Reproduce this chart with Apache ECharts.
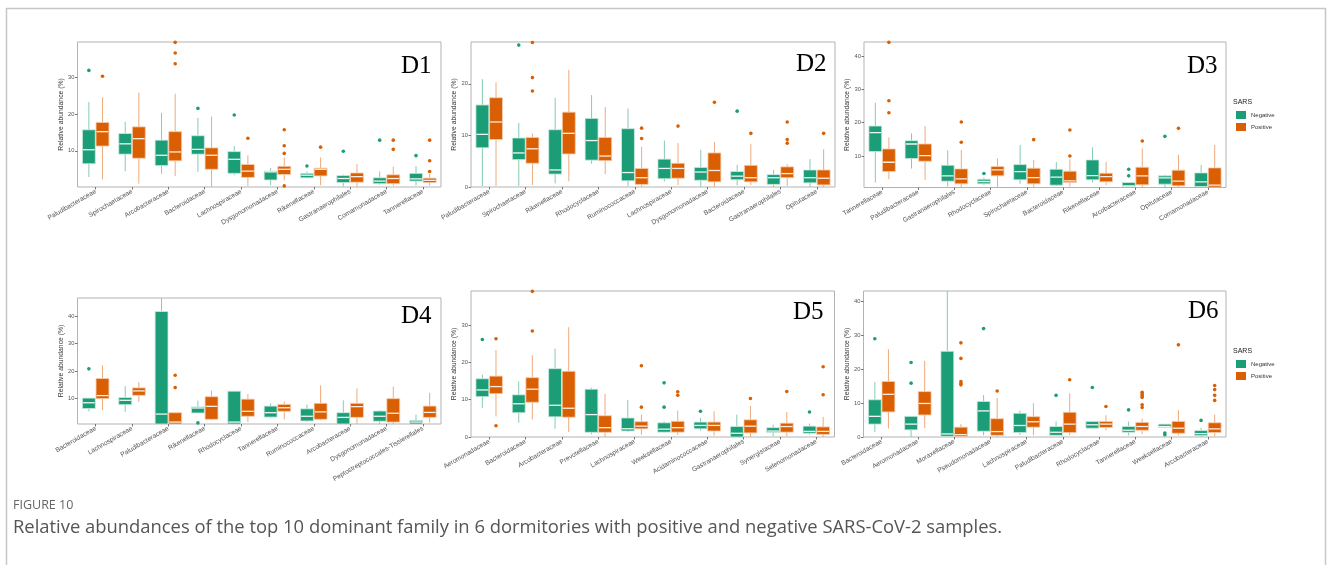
<!DOCTYPE html>
<html><head><meta charset="utf-8">
<script src="https://cdn.jsdelivr.net/npm/echarts@6/dist/echarts.min.js"></script>
<style>html,body{margin:0;padding:0;background:#fff}#c{width:1328px;height:565px}</style>
</head><body><div id="c"></div>
<script>
// ---------- DATA ----------
// box values: [lower whisker, Q1, median, Q3, upper whisker]; outliers: [category index, value]
const d1Categories = ['Paludibacteraceae','Spirochaetaceae','Arcobacteraceae','Bacteroidaceae','Lachnospiraceae','Dysgonomonadaceae','Rikenellaceae','Gastranaerophilales','Comamonadaceae','Tannerellaceae'];
const d1Negative = [[2.9,6.5,10.3,15.7,23.2],[4.5,9.1,11.9,14.7,17.9],[3.8,6.0,8.8,12.9,20.3],[4.3,9.1,10.4,14.1,18.9],[3.4,3.9,7.7,9.8,11.3],[0.7,2.1,4.3,4.5,5.4],[2.5,2.7,3.4,3.9,4.4],[0.3,1.4,2.5,3.3,3.6],[0.9,1.1,1.8,2.7,4.4],[0.6,1.8,2.4,3.9,5.9]];
const d1Positive = [[2.3,11.3,15.2,17.7,24.5],[1.1,8.0,13.3,16.5,25.8],[3.2,7.3,9.7,15.2,25.5],[0.2,5.0,8.8,10.8,19.3],[0.5,2.8,4.5,6.3,8.8],[2.0,3.6,5.0,5.8,8.2],[0.7,3.2,5.0,5.3,8.2],[0.2,1.5,3.0,4.0,6.4],[0.6,1.1,2.5,3.5,5.7],[0.6,1.4,2.0,2.6,3.8]];
const d1NegOutliers = [[0,31.8],[3,21.5],[4,19.7],[6,5.9],[7,9.9],[8,12.9],[9,8.7]];
const d1PosOutliers = [[0,30.2],[2,39.4],[2,36.5],[2,33.6],[4,13.4],[5,15.7],[5,11.4],[5,9.3],[5,0.5],[6,11.0],[8,12.9],[8,10.4],[9,12.9],[9,7.3],[9,4.4]];
const d1Range = [0.2, 39.5];
const d1Ticks = [10, 20, 30];

const d2Categories = ['Paludibacteraceae','Spirochaetaceae','Rikenellaceae','Rhodocyclaceae','Ruminococcaceae','Lachnospiraceae','Dysgonomonadaceae','Bacteroidaceae','Gastranaerophilales','Opitutaceae'];
const d2Negative = [[0.2,7.6,10.2,15.9,20.9],[0.2,5.3,6.6,9.5,12.4],[0.7,2.5,3.3,11.1,17.3],[4.5,5.2,9.0,13.3,17.8],[0.2,1.2,2.8,11.3,15.2],[1.1,1.6,3.6,5.4,9.0],[0,1.3,2.9,3.8,7.2],[0.3,1.4,2.1,3.0,4.3],[0,0.5,1.8,2.4,3.3],[0,0.8,1.8,3.3,5.4]];
const d2Positive = [[0.2,9.2,12.6,17.3,20.3],[0.4,4.6,7.4,9.6,10.4],[1.1,6.4,10.4,14.5,22.7],[2.5,5.1,6.0,9.6,15.5],[0,0.5,1.8,3.6,7.8],[0.4,1.7,3.6,4.6,8.5],[0,1.0,3.2,6.6,8.7],[0.4,1.0,1.8,4.2,8.3],[0.2,1.8,2.6,3.9,4.4],[0,0.4,1.7,3.3,7.3]];
const d2NegOutliers = [[1,27.5],[7,14.7]];
const d2PosOutliers = [[1,28.0],[1,21.2],[1,18.6],[4,11.4],[4,9.4],[5,11.8],[6,16.4],[7,10.4],[8,12.6],[8,9.2],[8,8.5],[9,10.4]];
const d2Range = [0, 28.1];
const d2Ticks = [0, 10, 20];

const d3Categories = ['Tannerellaceae','Paludibacteraceae','Gastranaerophilales','Rhodocyclaceae','Spirochaetaceae','Bacteroidaceae','Rikenellaceae','Arcobacteraceae','Opitutaceae','Comamonadaceae'];
const d3Negative = [[2.0,11.3,17.0,19.0,26.0],[6.2,9.2,13.6,14.6,16.8],[0.8,2.4,4.0,7.2,11.7],[1.3,1.6,2.3,3.0,3.5],[1.6,2.8,5.3,7.4,13.3],[1.0,1.2,3.6,6.0,8.2],[2.0,2.8,4.1,8.8,12.6],[0.5,0.8,1.0,2.0,2.0],[0.5,1.5,3.4,4.0,4.3],[0.5,0.8,2.2,4.9,7.3]];
const d3Positive = [[3.0,5.3,8.1,12.1,15.6],[2.8,8.4,10.1,13.6,19.0],[0.5,1.6,3.1,6.1,11.8],[0.5,4.0,5.8,6.8,9.2],[0.5,1.6,3.5,6.3,8.8],[0.8,2.0,2.5,5.4,9.0],[1.2,2.2,3.8,4.8,8.2],[0.5,1.3,4.0,6.6,12.3],[0.5,1.0,2.4,5.7,10.3],[0.5,0.6,1.2,6.4,13.3]];
const d3NegOutliers = [[3,4.7],[7,6.0],[7,4.0],[8,15.9]];
const d3PosOutliers = [[0,44.2],[0,26.6],[0,23.0],[2,20.2],[2,14.1],[4,14.9],[5,17.8],[5,10.0],[7,14.5],[8,18.3]];
const d3Range = [0.5, 44.3];
const d3Ticks = [10, 20, 30, 40];

const d4Categories = ['Bacteroidaceae','Lachnospiraceae','Paludibacteraceae','Rikenellaceae','Rhodocyclaceae','Tannerellaceae','Ruminococcaceae','Arcobacteraceae','Dysgonomonadaceae','Peptostreptococcales-Tissierellales'];
const d4Negative = [[5.4,6.4,8.5,10.2,10.2],[5.2,7.8,9.4,10.4,14.5],[0.8,0.8,4.4,41.6,46.5],[4.8,4.8,6.6,7.0,9.3],[0.8,0.8,1.5,12.7,12.7],[3.0,3.3,4.9,7.3,8.3],[1.5,1.9,3.6,6.3,7.9],[0.8,0.8,3.2,4.9,9.4],[0.8,1.8,3.6,5.5,5.8],[0.8,0.8,1.5,2.1,4.2]];
const d4Positive = [[5.8,10.0,11.1,17.3,22.1],[8.8,11.2,12.8,13.9,16.0],[0.8,0.8,1.5,4.9,4.9],[2.1,2.5,7.2,10.7,12.9],[1.5,3.6,5.4,9.8,11.7],[2.5,5.4,6.7,7.9,9.0],[2.1,2.5,5.2,8.3,14.8],[0.8,3.2,7.1,8.3,13.7],[0.8,1.5,4.7,10.0,14.4],[1.3,3.2,5.0,7.3,12.1]];
const d4NegOutliers = [[0,20.8],[3,1.2]];
const d4PosOutliers = [[2,18.5],[2,14.0]];
const d4Range = [0.8, 46.5];
const d4Ticks = [10, 20, 30, 40];

const d5Categories = ['Aeromonadaceae','Bacteroidaceae','Arcobacteraceae','Prevotellaceae','Lachnospiraceae','Weeksellaceae','Acidaminococcaceae','Gastranaerophilales','Synergistaceae','Selenomonadaceae'];
const d5Negative = [[7.8,10.8,12.6,15.6,16.7],[3.8,6.5,8.9,11.3,14.9],[2.2,5.4,8.5,18.3,23.7],[0.7,1.25,6.0,12.8,13.2],[1.3,1.6,2.2,5.1,9.9],[1.2,1.3,2.1,3.8,4.2],[1.7,2.2,3.1,4.0,5.1],[0,0,1.0,2.8,6.0],[0.2,1.25,1.6,2.5,3.3],[0.6,1.0,1.5,2.9,3.6]];
const d5Positive = [[5.5,11.6,13.5,16.3,23.3],[4.7,9.3,12.8,15.9,21.9],[1.3,5.3,7.7,17.6,29.4],[0,1.25,2.5,5.7,11.6],[0.6,2.2,2.9,4.1,6.0],[0.6,1.3,2.5,4.2,7.1],[0.4,1.6,3.1,4.0,6.9],[0,1.1,2.9,4.6,8.3],[0.2,1.3,2.8,3.7,6.7],[0,0.7,1.5,2.7,5.4]];
const d5NegOutliers = [[0,26.1],[5,14.5],[5,8.0],[6,6.9],[9,6.7]];
const d5PosOutliers = [[0,26.3],[0,3.0],[1,39.0],[1,28.4],[4,19.1],[4,8.0],[5,12.1],[5,11.2],[7,10.3],[8,12.2],[9,18.8],[9,11.3]];
const d5Range = [0, 39.1];
const d5Ticks = [0, 10, 20, 30];

const d6Categories = ['Bacteroidaceae','Aeromonadaceae','Moraxellaceae','Pseudomonadaceae','Lachnospiraceae','Paludibacteraceae','Rhodocyclaceae','Tannerellaceae','Weeksellaceae','Arcobacteraceae'];
const d6Negative = [[1.4,3.8,6.1,11.0,16.2],[0,2.1,3.8,6.1,6.1],[0,0.2,0.9,25.3,43.1],[0.5,1.7,7.7,10.5,12.4],[0.6,1.3,3.4,7.0,7.8],[0.5,0.5,1.4,3.1,4.6],[2.5,2.6,3.6,4.6,4.6],[0.5,1.4,2.0,3.1,4.6],[2.6,2.8,3.1,3.8,3.8],[0,0.4,1.0,1.9,2.7]];
const d6Positive = [[2.5,7.4,12.6,16.4,25.9],[2.6,6.5,9.9,13.4,22.5],[0,0.2,0.7,2.9,3.8],[0,0.5,1.6,5.4,11.5],[0.5,2.9,4.5,6.0,10.0],[0.5,1.3,3.8,7.3,12.9],[1.9,2.8,3.8,4.6,6.4],[0.9,2.0,3.1,4.3,5.4],[0.5,1.1,2.6,4.6,7.9],[0.1,1.3,2.4,4.2,6.6]];
const d6NegOutliers = [[0,29.0],[1,22.0],[1,15.9],[3,32.0],[5,12.3],[6,14.6],[7,8.0],[8,1.2],[8,0.7],[9,4.9]];
const d6PosOutliers = [[2,27.8],[2,23.2],[2,16.4],[2,15.8],[2,15.4],[3,13.6],[5,16.9],[6,9.0],[7,13.2],[7,12.7],[7,12.2],[7,11.7],[7,9.5],[7,8.7],[8,27.2],[9,15.2],[9,14.0],[9,12.3],[9,10.8]];
const d6Range = [0, 43.1];
const d6Ticks = [0, 10, 20, 30, 40];

const seriesNames = ['Negative', 'Positive'];
const panelLabels = ['D1','D2','D3','D4','D5','D6'];
const legendTitle = 'SARS';
const yTitle = 'Relative abundance (%)';
const figureLabel = 'FIGURE 10';
const figureCaption = 'Relative abundances of the top 10 dominant family in 6 dormitories with positive and negative SARS-CoV-2 samples.';

// ---------- LAYOUT / STYLE ----------
const panels = [
  {cats:d1Categories, neg:d1Negative, pos:d1Positive, negOut:d1NegOutliers, posOut:d1PosOutliers, range:d1Range, ticks:d1Ticks},
  {cats:d2Categories, neg:d2Negative, pos:d2Positive, negOut:d2NegOutliers, posOut:d2PosOutliers, range:d2Range, ticks:d2Ticks},
  {cats:d3Categories, neg:d3Negative, pos:d3Positive, negOut:d3NegOutliers, posOut:d3PosOutliers, range:d3Range, ticks:d3Ticks},
  {cats:d4Categories, neg:d4Negative, pos:d4Positive, negOut:d4NegOutliers, posOut:d4PosOutliers, range:d4Range, ticks:d4Ticks},
  {cats:d5Categories, neg:d5Negative, pos:d5Positive, negOut:d5NegOutliers, posOut:d5PosOutliers, range:d5Range, ticks:d5Ticks},
  {cats:d6Categories, neg:d6Negative, pos:d6Positive, negOut:d6NegOutliers, posOut:d6PosOutliers, range:d6Range, ticks:d6Ticks}
];
const gridBoxes = [
  {left:77.5, top:42, width:363.5, height:145},
  {left:471, top:42, width:364, height:145},
  {left:864, top:42, width:362, height:145.5},
  {left:77.5, top:298, width:363.5, height:126},
  {left:471, top:291, width:363.5, height:146},
  {left:863.5, top:291, width:362.5, height:146}
];
const labelPos = [
  {left:401, top:54},{left:796, top:52},{left:1187, top:54},
  {left:401, top:304},{left:793, top:300},{left:1188, top:299}
];
const fills = ['#1B9E77', '#D95F02'];
const whiskers = ['#86cbb4', '#eeaa7d'];
const edges = ['#cfeae0', '#f6cdb2'];
const medians = ['#eef7f3', '#fbeee4'];
const OFF = 0.1875, BW = 0.355;

function makeRender(k) {
  const side = k === 0 ? -1 : 1;
  return function (params, api) {
    const i = api.value(0);
    const band = api.size([1, 0])[0];
    const w = band * BW;
    const pLo = api.coord([i, api.value(1)]);
    const cx = pLo[0] + side * band * OFF;
    const yLo = pLo[1];
    const yQ1 = api.coord([i, api.value(2)])[1];
    const yMd = api.coord([i, api.value(3)])[1];
    const yQ3 = api.coord([i, api.value(4)])[1];
    const yHi = api.coord([i, api.value(5)])[1];
    return {type:'group', children:[
      {type:'line', shape:{x1:cx, y1:yQ1, x2:cx, y2:yLo}, style:{stroke:whiskers[k], lineWidth:1}},
      {type:'line', shape:{x1:cx, y1:yQ3, x2:cx, y2:yHi}, style:{stroke:whiskers[k], lineWidth:1}},
      {type:'rect', shape:{x:cx - w/2, y:yQ3, width:w, height:Math.max(yQ1 - yQ3, 0.8)}, style:{fill:fills[k], stroke:edges[k], lineWidth:0.8}},
      {type:'line', shape:{x1:cx - w/2 + 0.6, y1:yMd, x2:cx + w/2 - 0.6, y2:yMd}, style:{stroke:medians[k], lineWidth:1.3}}
    ]};
  };
}

const grid = [], xAxis = [], yAxis = [], series = [], title = [];
const font = 'Liberation Sans';
panels.forEach(function (p, gi) {
  const g = gridBoxes[gi];
  grid.push(Object.assign({show:true, borderColor:'#b3b3b3', borderWidth:1, backgroundColor:'transparent'}, g));
  xAxis.push({type:'category', gridIndex:gi, data:p.cats, boundaryGap:true,
    axisLine:{show:false}, splitLine:{show:false},
    axisTick:{show:true, alignWithLabel:true, length:2.5, lineStyle:{color:'#555', width:0.8}},
    axisLabel:{interval:0, rotate:30, fontSize:6.6, color:'#555', margin:4, fontFamily:font}});
  yAxis.push({type:'value', gridIndex:gi, min:p.range[0], max:p.range[1],
    name:yTitle, nameLocation:'middle', nameGap:10, nameRotate:90,
    nameTextStyle:{fontSize:6.8, color:'#333', fontFamily:font},
    axisLine:{show:false}, splitLine:{show:false},
    axisTick:{show:true, length:2.5, customValues:p.ticks, lineStyle:{color:'#555', width:0.8}},
    axisLabel:{fontSize:5.8, color:'#555', margin:3, customValues:p.ticks, fontFamily:font}});
  const band = g.width / p.cats.length;
  [p.neg, p.pos].forEach(function (arr, k) {
    series.push({type:'custom', name:seriesNames[k], xAxisIndex:gi, yAxisIndex:gi, clip:true,
      itemStyle:{color:fills[k]}, renderItem:makeRender(k),
      encode:{x:0, y:[1,2,3,4,5]},
      data:arr.map(function (d, j) { return [j].concat(d); })});
  });
  [p.negOut, p.posOut].forEach(function (arr, k) {
    series.push({type:'scatter', name:seriesNames[k], xAxisIndex:gi, yAxisIndex:gi,
      symbol:'circle', symbolSize:3.6, symbolOffset:[(k === 0 ? -1 : 1) * band * OFF, 0],
      itemStyle:{color:fills[k], opacity:1}, data:arr, z:3});
  });
  title.push({text:panelLabels[gi], left:labelPos[gi].left, top:labelPos[gi].top, padding:0,
    textStyle:{fontFamily:'Liberation Serif', fontSize:25, fontWeight:'normal', color:'#000'}});
});
title.push({text:legendTitle, left:1233, top:99, padding:0, textStyle:{fontFamily:font, fontSize:7, fontWeight:'normal', color:'#222'}});
title.push({text:legendTitle, left:1233, top:348, padding:0, textStyle:{fontFamily:font, fontSize:7, fontWeight:'normal', color:'#222'}});
title.push({text:figureLabel, left:13, top:499, padding:0, textStyle:{fontFamily:'Open Sans', fontSize:12.5, fontWeight:'normal', color:'#666'}});
title.push({text:figureCaption, left:13, top:519, padding:0, textStyle:{fontFamily:'Open Sans', fontSize:18.4, fontWeight:'normal', color:'#555'}});

const legendBase = {orient:'vertical', data:seriesNames, icon:'rect', itemWidth:10, itemHeight:8, itemGap:4, padding:0,
  selectedMode:false, textStyle:{fontSize:6, color:'#333', fontFamily:font}};

const chart = echarts.init(document.getElementById('c'), null, {renderer:'canvas'});
chart.setOption({
  animation:false,
  backgroundColor:'#fff',
  color:fills,
  title:title,
  legend:[Object.assign({left:1236, top:111}, legendBase), Object.assign({left:1236, top:360}, legendBase)],
  grid:grid, xAxis:xAxis, yAxis:yAxis, series:series,
  graphic:[{type:'rect', left:4, top:6, shape:{width:1319, height:600}, style:{fill:'none', stroke:'#c6c6c6', lineWidth:1.5}, silent:true}]
});
</script></body></html>
